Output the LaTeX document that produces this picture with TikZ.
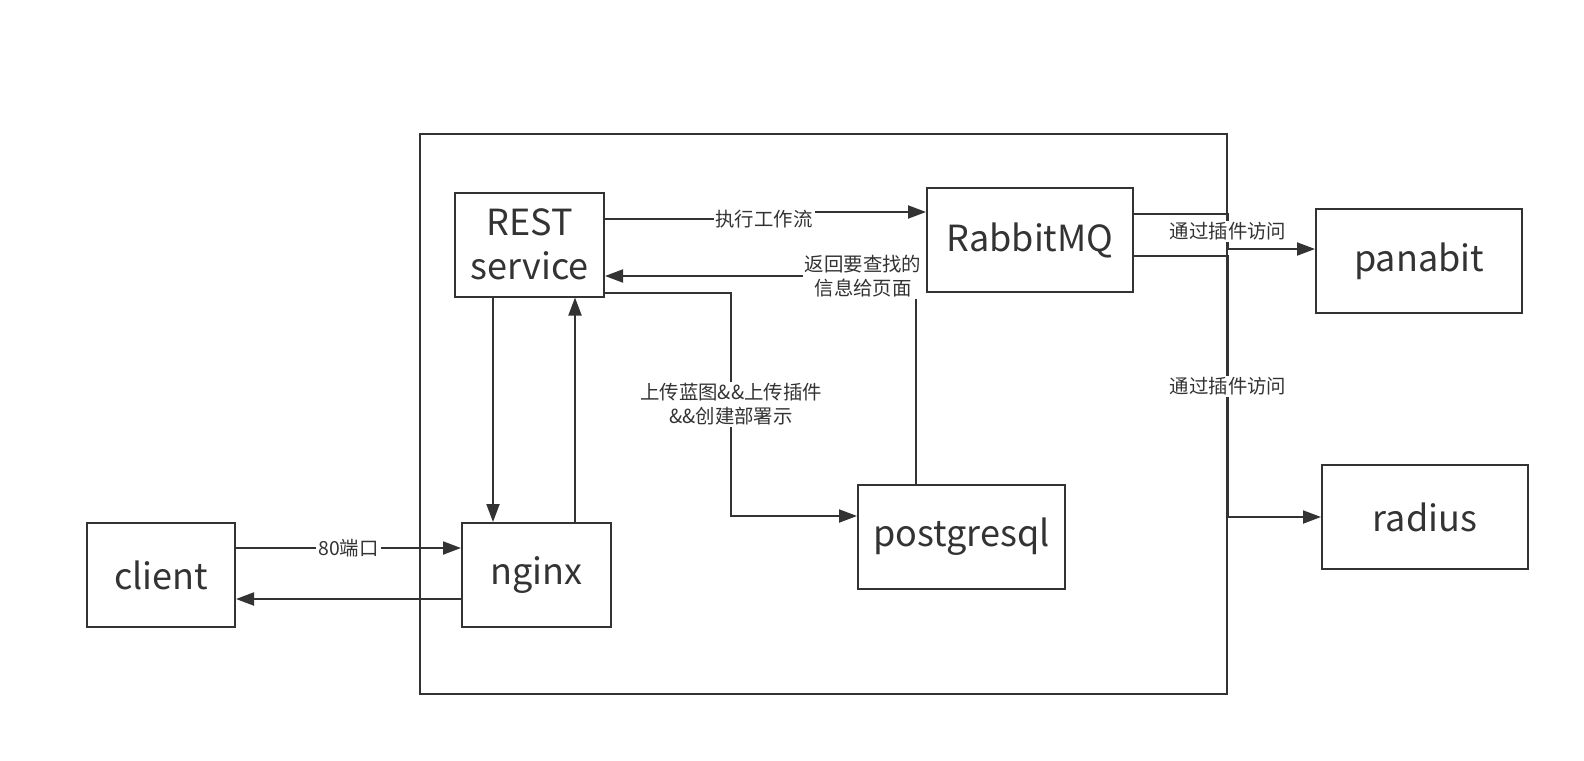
\documentclass[tikz,border=0pt]{standalone}
\usepackage{fontspec}
\setmainfont{Noto Sans CJK SC}
\usetikzlibrary{arrows.meta,positioning}
\definecolor{ink}{HTML}{333333}
\begin{document}
\begin{tikzpicture}[x=0.5pt,y=-0.5pt,>={Triangle[length=9pt,width=6.5pt]},
  line width=1pt, draw=ink, text=ink,
  box/.style={draw=ink, line width=1pt, inner sep=0pt, minimum height=52pt,
    font=\fontsize{18}{20}\selectfont, align=center},
  lbl/.style={fill=white, inner sep=1pt, font=\fontsize{9.7}{12}\selectfont, align=center}]
  \useasboundingbox (0,0) rectangle (1584,760);

  \node[draw=ink, line width=1pt, minimum width=403.5pt, minimum height=280pt] (server) at (823.5,414) {};

  \node[box, minimum width=74.5pt] (rest) at (529.5,244.5) {REST\\[2pt]service};
  \node[box, minimum width=103pt] (rabbit) at (1030,240) {RabbitMQ};
  \node[box, minimum width=103pt] (panabit) at (1419,261) {panabit};
  \node[box, minimum width=103pt] (radius) at (1425,517) {radius};
  \node[box, minimum width=103.5pt] (postgres) at (961.5,537) {postgresql};
  \node[box, minimum width=74pt] (client) at (161,575) {client};
  \node[box, minimum width=74.5pt] (nginx) at (536.5,575) {nginx};

  \path[->]
  (client.east |- 0,548) edge node [lbl] {80端口} (nginx.west |- 0,548)
  (nginx.west |- 0,599) edge (client.east |- 0,599)
  (rest.south -| 493,0) edge (nginx.north -| 493,0)
  (nginx.north -| 575,0) edge (rest.south -| 575,0)
  ;

  \draw[->] (rest.east |- 0,219) -- (764,219) node [lbl] {执行工作流}
    -- (764,212) -- (rabbit.west |- 0,212);
  \draw[->] (postgres.north -| 916,0) -- (916,276)
    -- node [lbl, pos=0.17] {返回要查找的\\信息给页面} (rest.east |- 0,276);
  \draw[->] (rest.east |- 0,293) -- (731,293)
    -- node [lbl] {上传蓝图\&\&上传插件\\\&\&创建部署示} (731,516) -- (postgres.west |- 0,516);

  \draw[->] (rabbit.east |- 0,214) -- (server.east |- 0,214)
    -- node [lbl] {通过插件访问} (server.east |- 0,249) -- (panabit.west |- 0,249);
  \draw[->] (rabbit.east |- 0,256) -- (server.east |- 0,256)
    -- node [lbl] {通过插件访问} (server.east |- 0,517) -- (radius.west);
\end{tikzpicture}
\end{document}
